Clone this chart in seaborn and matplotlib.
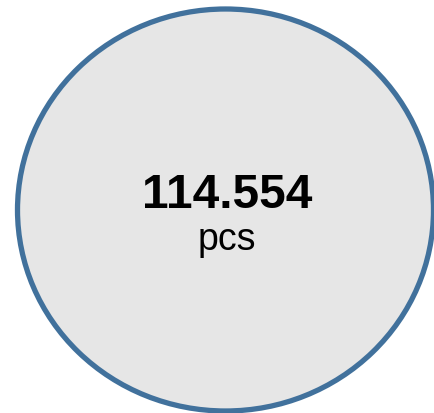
import matplotlib
matplotlib.use("Agg")
import matplotlib.pyplot as plt
from matplotlib.patches import Ellipse
import seaborn as sns

# KPI bubble data
value = 114.554
value_label = "114.554"
unit = "pcs"

fill_color = "#e6e6e6"
edge_color = "#41719c"

sns.set_theme(style="white")
plt.rcParams['font.family'] = ['Liberation Sans', 'DejaVu Sans']

fig = plt.figure(figsize=(4.34, 4.14), dpi=100)
ax = fig.add_axes([0, 0, 1, 1])
ax.set_xlim(0, 434)
ax.set_ylim(414, 0)
ax.axis('off')

bubble = Ellipse((225.5, 211), width=416, height=402,
                 facecolor=fill_color, edgecolor=edge_color, linewidth=3.8)
ax.add_patch(bubble)

ax.text(227.5, 208, value_label, ha='center', va='baseline',
        fontsize=34.5, fontweight='bold', color='black')
ax.text(227, 250, unit, ha='center', va='baseline',
        fontsize=27, color='black')

fig.savefig('out.png', dpi=100)
